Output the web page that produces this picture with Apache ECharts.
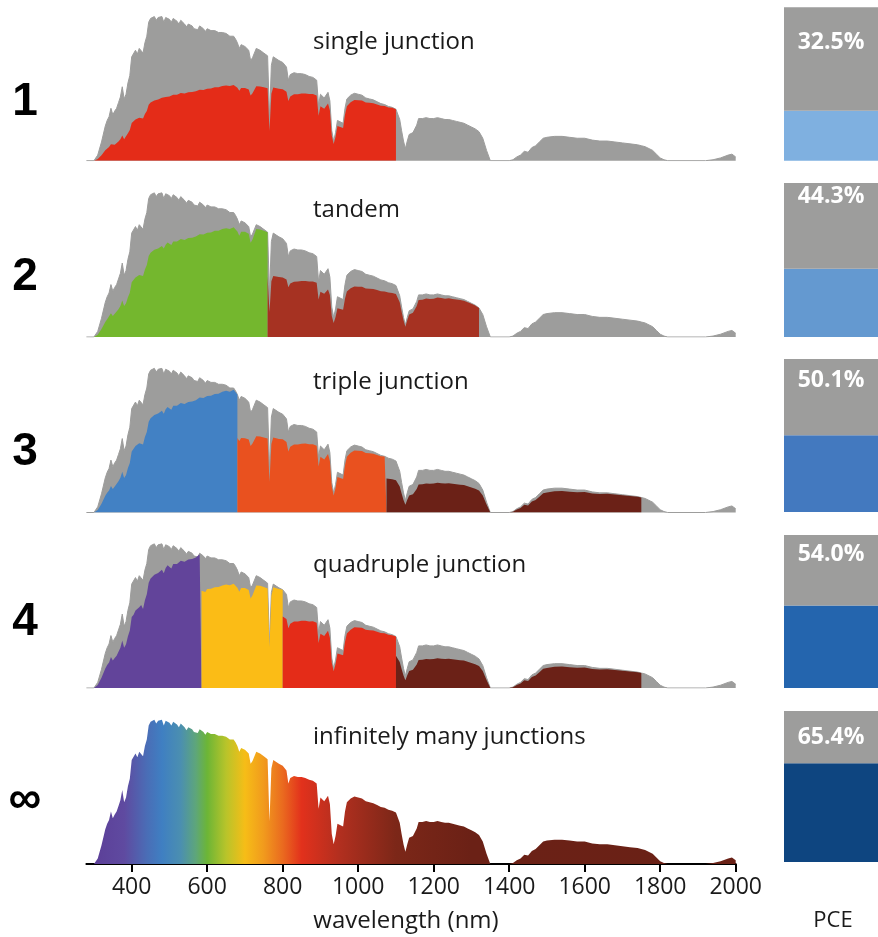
<!DOCTYPE html>
<html>
<head>
<meta charset="utf-8">
<script src="https://cdn.jsdelivr.net/npm/echarts@6/dist/echarts.min.js"></script>
<style>
html,body{margin:0;padding:0;background:#fff;}
#chart{width:878px;height:937px;}
</style>
</head>
<body>
<div id="chart"></div>
<script>
// ---------- DATA ----------
const wavelengths = [
 280,300,305,310,320,330,335,340,345,350,355,360,365,370,375,380,385,390,395,
 400,405,410,415,420,425,430,435,440,445,450,455,460,465,470,475,480,485,490,495,
 500,505,510,515,520,525,530,535,540,545,550,555,560,565,570,575,580,585,590,595,
 600,610,620,630,640,650,660,670,675,680,685,690,700,710,715,720,730,740,750,755,
 760,765,770,775,780,790,800,810,815,820,830,840,850,860,870,880,890,895,900,910,
 920,925,930,935,940,945,950,960,965,970,980,990,1000,1010,1020,1030,1040,1050,
 1060,1070,1075,1080,1090,1100,1110,1115,1120,1125,1130,1135,1140,1145,1150,1155,
 1160,1170,1180,1190,1200,1210,1220,1230,1240,1250,1260,1270,1280,1290,1300,1310,
 1320,1330,1340,1350,1400,1410,1420,1430,1440,1450,1460,1470,1480,1490,1500,1520,
 1540,1560,1580,1600,1620,1640,1660,1680,1700,1720,1740,1750,1760,1780,1790,1800,
 1810,1820,1920,1940,1960,1980,1990,2000
];
const irradiance = [
 0,0,0,0.06,0.20,0.37,0.43,0.47,0.56,0.49,0.53,0.56,0.62,0.68,0.79,0.66,0.71,0.83,0.91,
 1.11,1.13,1.18,1.14,1.20,1.22,1.15,1.26,1.33,1.48,1.52,1.51,1.54,1.50,1.53,1.51,1.54,1.48,1.53,1.55,
 1.51,1.48,1.52,1.50,1.49,1.46,1.50,1.48,1.46,1.43,1.46,1.44,1.44,1.41,1.43,1.40,1.44,1.42,1.41,1.38,
 1.41,1.39,1.39,1.37,1.37,1.36,1.33,1.33,1.30,1.26,1.20,1.24,1.22,1.18,1.07,1.10,1.20,1.18,1.15,1.13,
 1.12,0.46,1.02,1.11,1.10,1.07,1.05,1.00,0.86,0.92,0.94,0.93,0.93,0.92,0.90,0.89,0.86,0.59,0.71,0.67,
 0.73,0.64,0.32,0.21,0.30,0.43,0.41,0.40,0.56,0.66,0.70,0.72,0.71,0.70,0.67,0.66,0.65,0.63,
 0.61,0.60,0.59,0.58,0.57,0.55,0.44,0.32,0.21,0.13,0.21,0.28,0.26,0.30,0.29,0.38,
 0.45,0.45,0.46,0.45,0.45,0.46,0.45,0.44,0.44,0.43,0.42,0.41,0.40,0.38,0.36,0.34,
 0.31,0.24,0.11,0,0,0.01,0.04,0.06,0.10,0.09,0.14,0.16,0.20,0.24,0.25,0.26,
 0.26,0.25,0.24,0.24,0.22,0.21,0.21,0.20,0.19,0.18,0.17,0.16,0.15,0.11,0.07,0.03,
 0.01,0,0,0.01,0.03,0.06,0.07,0.04
];
const panelTitles = ['single junction','tandem','triple junction','quadruple junction','infinitely many junctions'];
const panelNumbers = ['1','2','3','4','\u221E'];
// upper wavelength edge (nm) of each junction, per panel
const junctionEdges = [[1100],[760,1320],[680,1075,1750],[585,800,1100,1750]];
const pceValues = [32.5, 44.3, 50.1, 54.0, 65.4];
const tickValues = [400,600,800,1000,1200,1400,1600,1800,2000];

// ---------- STYLE ----------
const GRAY = '#9d9d9c';
const junctionColors = [
  ['#e42c18'],
  ['#74b72e','#a63222'],
  ['#4281c4','#e9511f','#6b2117'],
  ['#62449a','#fbbc16','#e42c18','#6b2117']
];
const barBlues = ['#7fb0e0','#6499d0','#4379bf','#2465ae','#0e4580'];
const baselines = [160.7, 337, 512.5, 688, 864];
const barTops = [7.3, 183, 359, 535, 711];
const barBottoms = [160.7, 337, 512, 688, 862];
const labelOffsets = [34.7, 13, 21, 19, 26];
const titleY = [42, 210, 382, 565, 737];
const numberY = [102, 277, 452, 622, 800];
const SPEC_H = 153.5, SPEC_LEFT = 86.4, SPEC_W = 649.3, XMIN = 280, XMAX = 2000, YMAX = 1.64;
const TXT = '"Open Sans", "Noto Sans", sans-serif';

const fullSpectrum = wavelengths.map((w, i) => [w, irradiance[i]]);
function segment(lo, hi) {
  const pts = [[lo, 0]];
  wavelengths.forEach((w, i) => {
    if (w >= lo && w <= hi) pts.push([w, irradiance[i] * w / hi]);
  });
  pts.push([hi, 0]);
  return pts;
}

const grid = [], xAxis = [], yAxis = [], series = [], graphic = [];
for (let p = 0; p < 5; p++) {
  grid.push({left: SPEC_LEFT, width: SPEC_W, top: baselines[p] - SPEC_H, height: SPEC_H});
  const last = p === 4;
  xAxis.push({
    type: 'value', gridIndex: p, min: XMIN, max: XMAX,
    show: last,
    splitLine: {show: false},
    axisLine: {show: last, onZero: false, lineStyle: {color: '#000', width: 2}},
    axisTick: {show: last, length: 8, inside: false, lineStyle: {color: '#000', width: 2}, customValues: tickValues},
    axisLabel: {show: last, customValues: tickValues, margin: 12, fontSize: 23, color: '#1a1a1a', fontFamily: TXT,
      formatter: v => String(v)}
  });
  yAxis.push({type: 'value', gridIndex: p, min: 0, max: YMAX, show: false, splitLine: {show: false}});
}
for (let p = 0; p < 5; p++) {
  grid.push({left: 784, width: 94, top: barTops[p], height: barBottoms[p] - barTops[p]});
  xAxis.push({type: 'category', gridIndex: 5 + p, data: ['PCE'], show: false});
  yAxis.push({type: 'value', gridIndex: 5 + p, min: 0, max: 100, show: false, splitLine: {show: false}});
}

const common = {type: 'line', symbol: 'none', showSymbol: false, silent: true, animation: false};
for (let p = 0; p < 4; p++) {
  series.push(Object.assign({}, common, {
    xAxisIndex: p, yAxisIndex: p, data: fullSpectrum,
    lineStyle: {width: 1, color: GRAY}, areaStyle: {color: GRAY, opacity: 1}, z: 2
  }));
  let lo = XMIN;
  junctionEdges[p].forEach((hi, j) => {
    series.push(Object.assign({}, common, {
      xAxisIndex: p, yAxisIndex: p, data: segment(lo, hi),
      lineStyle: {width: 0}, areaStyle: {color: junctionColors[p][j], opacity: 1}, z: 3
    }));
    lo = hi;
  });
}
// infinitely many junctions: full spectrum, spectral colour gradient
const gradStops = [
  [280,'#5b3c96'],[380,'#5f4aa0'],[440,'#4a6db6'],[480,'#3f7fc2'],[530,'#4b8fb0'],
  [570,'#5ea67a'],[600,'#6cb536'],[650,'#b8c42a'],[700,'#f6bd17'],[750,'#f19a1d'],
  [800,'#ea6a1f'],[850,'#e2311c'],[950,'#b22f1f'],[1100,'#7c2718'],[1300,'#6b2116'],[2000,'#6a2116']
].map(s => ({offset: (s[0] - XMIN) / (XMAX - XMIN), color: s[1]}));
series.push(Object.assign({}, common, {
  xAxisIndex: 4, yAxisIndex: 4, data: fullSpectrum,
  lineStyle: {width: 0},
  areaStyle: {opacity: 1, color: new echarts.graphic.LinearGradient(0, 0, 1, 0, gradStops)}, z: 3
}));

// PCE bars
for (let p = 0; p < 5; p++) {
  series.push({
    type: 'bar', xAxisIndex: 5 + p, yAxisIndex: 5 + p, stack: 'pce' + p, barWidth: '100%',
    data: [pceValues[p]], itemStyle: {color: barBlues[p]}, silent: true, animation: false
  });
  series.push({
    type: 'bar', xAxisIndex: 5 + p, yAxisIndex: 5 + p, stack: 'pce' + p, barWidth: '100%',
    data: [100 - pceValues[p]], itemStyle: {color: GRAY}, silent: true, animation: false,
    label: {
      show: true, position: ['50%', labelOffsets[p]], align: 'center', verticalAlign: 'middle',
      formatter: pceValues[p].toFixed(1) + '%', color: '#fff', fontWeight: 'bold', fontSize: 23, fontFamily: TXT
    }
  });
}

for (let p = 0; p < 5; p++) {
  graphic.push({type: 'text', x: 313, y: titleY[p], style: {
    text: panelTitles[p], fontSize: 24, fontFamily: TXT, fill: '#1a1a1a', align: 'left', verticalAlign: 'middle'}});
  graphic.push({type: 'text', x: 25, y: numberY[p], style: {
    text: panelNumbers[p], fontSize: 46, fontWeight: 'bold', fontFamily: '"Liberation Sans", Arial, sans-serif',
    fill: '#000', align: 'center', verticalAlign: 'middle'}});
}
graphic.push({type: 'text', x: 406, y: 921, style: {text: 'wavelength (nm)', fontSize: 24, fontFamily: TXT,
  fill: '#1a1a1a', align: 'center', verticalAlign: 'middle'}});
graphic.push({type: 'text', x: 833, y: 921, style: {text: 'PCE', fontSize: 22, fontFamily: TXT,
  fill: '#1a1a1a', align: 'center', verticalAlign: 'middle'}});

const chart = echarts.init(document.getElementById('chart'), null, {renderer: 'canvas'});
chart.setOption({animation: false, grid, xAxis, yAxis, series, graphic});
</script>
</body>
</html>
